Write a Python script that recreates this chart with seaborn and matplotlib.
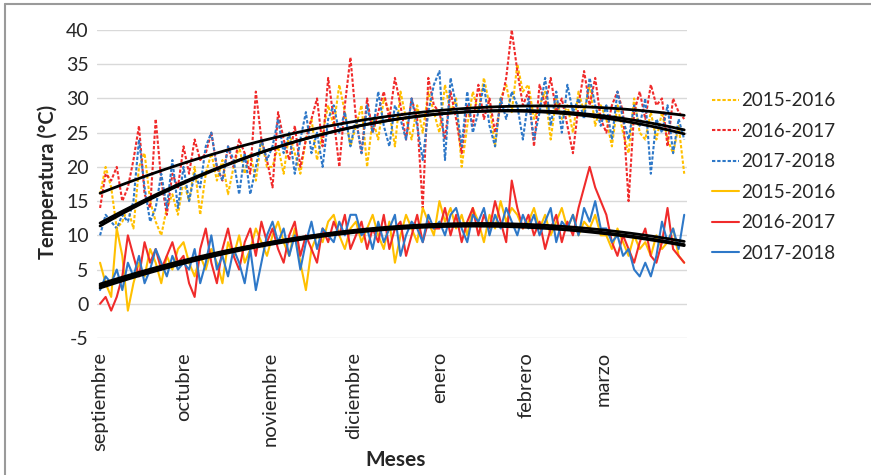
import numpy as np
import pandas as pd
import matplotlib
matplotlib.use("Agg")
import matplotlib.pyplot as plt
from matplotlib.lines import Line2D
import seaborn as sns

sns.set_style("white")
plt.rcParams["font.family"] = ["Lato", "DejaVu Sans"]
plt.rcParams["axes.unicode_minus"] = False

# dia de la temporada (cada 2 dias, 1 sep -> 31 mar)
dias = list(range(0, 212, 2))
meses = ["septiembre", "octubre", "noviembre", "diciembre", "enero", "febrero", "marzo"]
inicio_mes = [0, 30, 61, 91, 122, 153, 181]
temporadas = ["2015-2016", "2016-2017", "2017-2018"]

# === maximas (punteadas) ===
max_2015 = ([16, 20, 17, 11, 12, 14, 11, 20, 22, 15, 12, 10, 14, 16, 13]
            + [18, 15, 20, 13, 19, 22, 18, 21, 16, 20, 23, 19, 22, 18, 24, 20]
            + [20, 23, 19, 25, 22, 19, 24, 27, 21, 25, 29, 26, 32, 28, 23]
            + [26, 29, 20, 27, 24, 30, 28, 23, 31, 27, 24, 29, 25, 31, 28]
            + [25, 32, 28, 30, 20, 26, 31, 28, 33, 29, 23, 30, 32, 28, 35, 31]
            + [32, 27, 29, 31, 24, 30, 27, 29, 25, 31, 28, 32, 26, 29]
            + [27, 23, 29, 25, 22, 30, 25, 24, 28, 24, 28, 24, 22, 26, 19])
max_2016 = ([14, 19, 18, 20, 15, 17, 21, 26, 16, 14, 27, 18, 13, 19, 17]
            + [23, 19, 24, 21, 22, 25, 20, 18, 23, 20, 24, 22, 19, 31, 24, 21]
            + [17, 28, 24, 21, 26, 20, 24, 27, 30, 23, 33, 27, 20, 29, 36]
            + [27, 22, 30, 25, 28, 31, 27, 33, 29, 24, 30, 27, 14, 33, 29]
            + [28, 24, 31, 27, 22, 29, 26, 32, 27, 30, 25, 29, 33, 40, 34, 29]
            + [31, 23, 32, 29, 33, 28, 30, 26, 22, 29, 34, 29, 33, 27]
            + [25, 29, 31, 28, 15, 28, 31, 27, 32, 29, 30, 23, 30, 28, 27])
max_2017 = ([10, 13, 12, 11, 13, 12, 15, 24, 17, 12, 14, 19, 14, 21, 14]
            + [20, 15, 19, 17, 23, 25, 20, 18, 23, 21, 16, 22, 16, 20, 24, 21]
            + [23, 27, 22, 25, 19, 24, 28, 22, 25, 20, 27, 29, 25, 28, 23]
            + [27, 22, 29, 25, 31, 26, 23, 29, 27, 24, 30, 26, 21, 28, 32]
            + [34, 21, 33, 29, 23, 31, 25, 28, 32, 26, 23, 30, 27, 31, 29, 24]
            + [30, 24, 28, 33, 26, 31, 25, 32, 28, 30, 27, 33, 29, 26]
            + [29, 24, 31, 27, 24, 29, 26, 30, 19, 27, 25, 29, 22, 27, 24])

# === minimas (continuas) ===
min_2015 = ([6, 3, 1, 11, 7, -1, 3, 6, 4, 8, 6, 3, 7, 5, 8]
            + [9, 6, 4, 7, 5, 8, 6, 3, 9, 7, 10, 6, 8, 11, 9, 7]
            + [10, 12, 9, 7, 11, 6, 2, 8, 10, 9, 12, 13, 10, 8, 11]
            + [12, 9, 11, 13, 10, 8, 12, 6, 10, 13, 11, 9, 14, 12, 10]
            + [15, 12, 14, 11, 13, 10, 14, 12, 9, 13, 11, 15, 12, 14, 13, 11]
            + [12, 14, 11, 13, 10, 12, 14, 11, 13, 10, 12, 11, 13, 10]
            + [10, 8, 11, 9, 7, 10, 8, 9, 7, 10, 8, 9, 11, 7, 6])
min_2016 = ([0, 1, -1, 1, 4, 10, 7, 4, 9, 6, 8, 5, 7, 9, 6]
            + [7, 3, 1, 8, 11, 6, 3, 8, 11, 7, 5, 9, 11, 7, 12, 9]
            + [11, 8, 6, 10, 12, 7, 10, 8, 6, 11, 9, 12, 10, 13, 8]
            + [10, 12, 8, 11, 9, 13, 8, 11, 12, 7, 10, 13, 9, 12, 11]
            + [11, 14, 10, 13, 9, 12, 14, 10, 13, 11, 15, 12, 9, 18, 14, 11]
            + [13, 10, 12, 8, 11, 13, 9, 12, 10, 14, 17, 20, 17, 15]
            + [13, 9, 7, 10, 8, 6, 9, 11, 7, 6, 9, 14, 8, 7, 6])
min_2017 = ([2, 4, 3, 5, 2, 6, 4, 7, 3, 5, 8, 6, 4, 7, 5]
            + [6, 5, 8, 3, 6, 10, 5, 7, 4, 8, 6, 3, 8, 2, 6, 10]
            + [12, 9, 11, 7, 10, 5, 9, 12, 8, 11, 10, 9, 12, 10, 13]
            + [13, 10, 11, 8, 12, 9, 11, 13, 7, 10, 12, 11, 9, 13, 11]
            + [12, 10, 13, 14, 11, 9, 13, 12, 14, 10, 13, 11, 14, 12, 10, 13]
            + [11, 13, 10, 12, 14, 9, 12, 11, 13, 10, 14, 12, 15, 11]
            + [11, 9, 10, 7, 8, 5, 4, 6, 4, 7, 12, 9, 11, 8, 13])

colores = ["#FFC000", "#F02B2B", "#2E78C8"]
punteado = (0, (1.6, 0.9))

fig = plt.figure(figsize=(8.71, 4.75), dpi=100)
ax = fig.add_axes([97 / 871, 1 - 338 / 475, 590 / 871, 308 / 475])

series = [(max_2015, 0, punteado), (max_2016, 1, punteado), (max_2017, 2, punteado),
          (min_2015, 0, "-"), (min_2016, 1, "-"), (min_2017, 2, "-")]

for vals, i, ls in series:
    sns.lineplot(x=dias, y=vals, color=colores[i], linestyle=ls, linewidth=1.5,
                 ax=ax, label=temporadas[i])

handles, labels = ax.get_legend_handles_labels()

# lineas de tendencia (polinomio grado 2)
for vals, i, ls in series:
    sns.regplot(x=dias, y=vals, order=2, scatter=False, ci=None, ax=ax,
                color="black", line_kws={"linewidth": 2})

ax.set_ylim(-5, 40)
ax.set_yticks(range(-5, 41, 5))
ax.set_xlim(-1.1, 211)
ax.set_xticks(inicio_mes)
ax.set_xticklabels(meses, rotation=90, fontsize=14.5)
ax.tick_params(axis="y", labelsize=14, length=0, pad=6)
ax.tick_params(axis="x", length=0, pad=10)
ax.yaxis.grid(True, color="#D9D9D9", linewidth=1)
ax.xaxis.grid(False)
for s in ax.spines.values():
    s.set_visible(False)
ax.set_xlabel("")
ax.set_ylabel("")

if ax.get_legend() is not None:
    ax.get_legend().remove()
fig.legend(handles[:6], labels[:6], loc="center left",
           bbox_to_anchor=(704 / 871, 1 - 177 / 475), frameon=False, fontsize=13.5,
           handlelength=1.45, handletextpad=0.15, labelspacing=0.72, borderaxespad=0)

fig.text(48 / 871, 1 - 182 / 475, "Temperatura (°C)", rotation=90, ha="center",
         va="center", fontsize=14.5, fontweight="bold")
fig.text(396 / 871, 1 - 460 / 475, "Meses", ha="center", va="center",
         fontsize=15, fontweight="bold")

# marco exterior
fig.add_artist(Line2D([5 / 871, 1], [1 - 4 / 475, 1 - 4 / 475], color="#9a9a9a", lw=1.5))
fig.add_artist(Line2D([5 / 871, 5 / 871], [0, 1 - 4 / 475], color="#9a9a9a", lw=1.5))

fig.savefig("out.png", dpi=100)
